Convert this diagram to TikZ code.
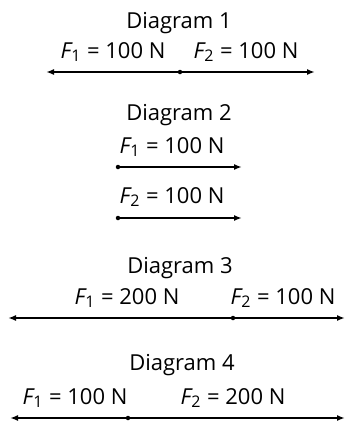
\documentclass[tikz,border=0pt]{standalone}
\usepackage{fontspec}
\setmainfont{Open Sans}
\usepackage{tikz}
\usetikzlibrary{arrows.meta}

% force label: F with index, then value
\newcommand{\forcelbl}[2]{\textit{F}\kern-1.5pt\raisebox{-0.3ex}{\fontsize{16}{16}\selectfont #1}\kern1pt{} = #2 N}

\begin{document}
\begin{tikzpicture}[
  x=1pt,y=-1pt,
  title/.style={font=\fontsize{22}{23}\selectfont},
  lbl/.style={font=\fontsize{22}{23}\selectfont},
  force/.style={-{Latex[length=8pt,width=6pt]},line width=2pt},
  tail/.style={fill,circle,inner sep=0pt,minimum size=4.5pt}
]
\useasboundingbox (0,0) rectangle (350,421);

% Diagram 1
\node[title] (t1) at (179,23) {Diagram 1};
\node[lbl] (f11) at (113,52) {\forcelbl{1}{100}};
\node[lbl] (f12) at (246,52) {\forcelbl{2}{100}};
\coordinate (o1) at (180,72);
\coordinate (a1) at (46,72);
\coordinate (b1) at (315,72);
\draw[force] (o1) -- (a1);
\draw[force] (o1) -- (b1);
\node[tail] (d1) at (o1) {};

% Diagram 2
\node[title] (t2) at (179,115) {Diagram 2};
\node[lbl] (f21) at (172,147) {\forcelbl{1}{100}};
\node[lbl] (f22) at (172,197) {\forcelbl{2}{100}};
\coordinate (o2) at (118,167);
\coordinate (b2) at (242,167);
\coordinate (o3) at (118,218);
\coordinate (b3) at (242,218);
\draw[force] (o2) -- (b2);
\draw[force] (o3) -- (b3);
\node[tail] (d2) at (o2) {};
\node[tail] (d3) at (o3) {};

% Diagram 3
\node[title] (t3) at (180,268) {Diagram 3};
\node[lbl] (f31) at (127,298) {\forcelbl{1}{200}};
\node[lbl] (f32) at (283,298) {\forcelbl{2}{100}};
\coordinate (o4) at (233,318);
\coordinate (a4) at (8,318);
\coordinate (b4) at (345,318);
\draw[force] (o4) -- (a4);
\draw[force] (o4) -- (b4);
\node[tail] (d4) at (o4) {};

% Diagram 4
\node[title] (t4) at (182,365) {Diagram 4};
\node[lbl] (f41) at (75,398) {\forcelbl{1}{100}};
\node[lbl] (f42) at (233,398) {\forcelbl{2}{200}};
\coordinate (o5) at (128,418);
\coordinate (a5) at (10,418);
\coordinate (b5) at (345,418);
\draw[force] (o5) -- (a5);
\draw[force] (o5) -- (b5);
\node[tail] (d5) at (o5) {};
\end{tikzpicture}
\end{document}
